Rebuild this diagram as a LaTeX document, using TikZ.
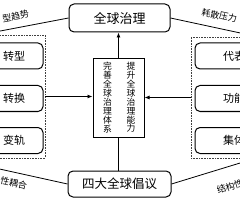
\documentclass[tikz,border=0pt]{standalone}
\usepackage{fontspec}
\setmainfont{Noto Sans CJK SC}
\usetikzlibrary{arrows.meta, positioning, calc}

\begin{document}
\begin{tikzpicture}[
    x=1pt, y=-1pt,
    >={Latex[length=5pt, width=4pt]},
    mainbox/.style={rectangle, draw=black, line width=1pt, rounded corners=5pt, align=center, inner sep=0pt},
    sidebox/.style={rectangle, draw=black, line width=1pt, rounded corners=5pt, minimum height=26pt, inner sep=0pt, font=\fontsize{11}{13}\selectfont},
    panel/.style={rectangle, draw=black!75, densely dotted, line width=0.6pt},
    midbox/.style={rectangle, draw=black, line width=1pt, minimum width=51pt, minimum height=78pt},
    vtext/.style={align=center, inner sep=0pt, font=\fontsize{8.8}{8.9}\selectfont},
    line/.style={draw=black, line width=0.8pt},
    arrow/.style={draw=black, line width=0.8pt, ->},
    slopelbl/.style={sloped, inner sep=1pt, font=\fontsize{9}{10}\selectfont}
]
    \useasboundingbox (0,0) rectangle (240,200);
    \clip (0,0) rectangle (240,200);

    % Top and bottom
    \node [mainbox, minimum width=101pt, minimum height=28pt, font=\fontsize{13}{15}\selectfont] (governance) at (119.5, 18) {全球治理};
    \node [mainbox, minimum width=103pt, minimum height=26pt, font=\fontsize{12.5}{15}\selectfont] (initiative) at (119.5, 184) {四大全球倡议};

    % Centre
    \node [midbox] (system) at (118.5, 98) {};
    \node [vtext] (perfect) at (107.5, 97.5) {完\\善\\全\\球\\治\\理\\体\\系};
    \node [vtext] (capacity) at (131, 97.5) {提\\升\\全\\球\\治\\理\\能\\力};

    % Left group
    \node [panel, minimum width=55pt, minimum height=123pt] (leftpanel) at (17.5, 96.5) {};
    \node [sidebox, minimum width=58pt] (transform) at (14, 56) {转型};
    \node [sidebox, minimum width=58pt] (switch) at (14, 98.5) {转换};
    \node [sidebox, minimum width=58pt] (track) at (14, 140.5) {变轨};

    % Right group
    \node [panel, minimum width=59pt, minimum height=121pt] (rightpanel) at (220.5, 97.5) {};
    \node [sidebox, minimum width=78pt] (represent) at (234, 56) {代表};
    \node [sidebox, minimum width=78pt] (function) at (234, 98.5) {功能};
    \node [sidebox, minimum width=78pt] (collective) at (234, 140.5) {集体};

    % Free ends
    \coordinate (tlend) at (-5, 32);
    \coordinate (trend) at (245, 34);
    \coordinate (blend) at (-5, 168);
    \coordinate (brend) at (245, 161.5);

    \draw [arrow] (leftpanel.east) -- (leftpanel.east -| system.west);
    \draw [arrow] (rightpanel.west) -- (rightpanel.west -| system.east);
    \draw [arrow] (system.north) -- (system.north |- governance.south);
    \draw [line] (system.south) -- (system.south |- initiative.north);

    \draw [line] (tlend) -- node[slopelbl, above=6pt, pos=0.31] {型趋势} (governance.west);
    \draw [line] (governance.east) -- node[slopelbl, above=7pt, pos=0.62] {耗散压力} (trend);
    \draw [line] (blend) -- node[slopelbl, below=5pt, pos=0.29] {性耦合} (initiative.west);
    \draw [line] (initiative.east) -- node[slopelbl, below=14pt, pos=0.72] {结构性} (brend);

\end{tikzpicture}
\end{document}
